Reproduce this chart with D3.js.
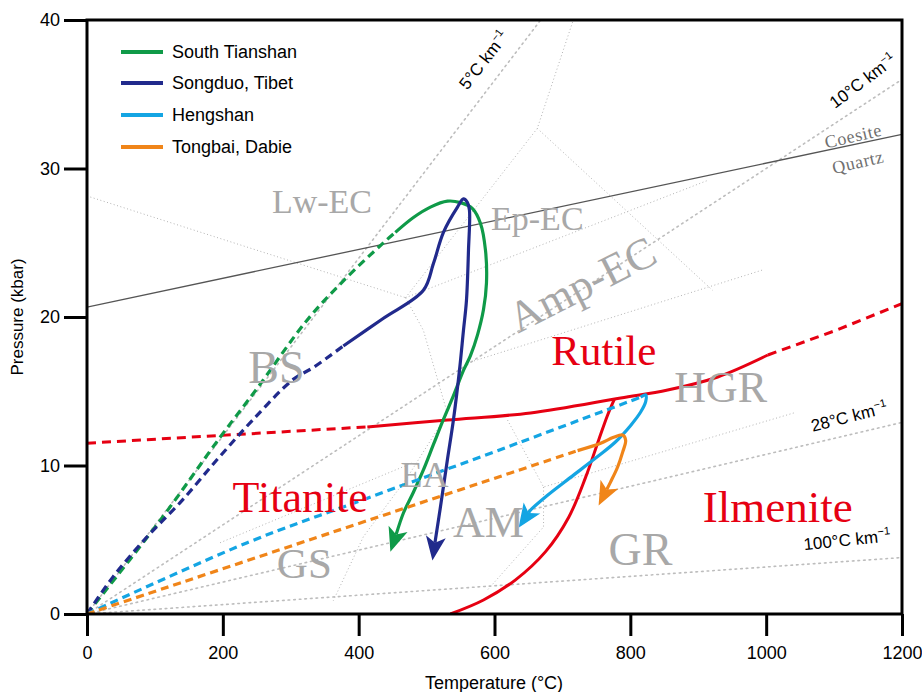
<!DOCTYPE html>
<html><head><meta charset="utf-8">
<script src="https://cdn.jsdelivr.net/npm/d3@7"></script>
<style>body{margin:0;background:#fff}svg{display:block}</style>
</head><body>
<svg id="chart" width="922" height="692"></svg>
<script>
// ---------- data (T in °C, P in kbar) ----------
const xTicks = [0, 200, 400, 600, 800, 1000, 1200];
const yTicks = [0, 10, 20, 30, 40];

const seriesNames = ["South Tianshan", "Songduo, Tibet", "Hengshan", "Tongbai, Dabie"];
const seriesColors = ["#0f9a48", "#212a8c", "#14a5e3", "#f08519"];

// prograde (dashed) and peak/retrograde (solid, arrow at end)
const tianshanPro = [[0,0],[107.6,6.3],[196,11.9],[250.6,15.2],[324.3,19.8],[378.9,22.5],[437.8,25.05],[454,25.7]];
const tianshanRet = [[454,25.7],[480.6,26.7],[505.6,27.4],[530.7,27.8],[549.9,27.7],[567.6,27.3],[579.4,26.3],[586.7,24.5],[588.2,22.3],[583.8,20.5],[575,18.8],[564.6,17.4],[554.3,16.4],[539.6,14.7],[524.8,13.1],[510,11.4],[495.3,9.7],[480.6,8.2],[465.9,6.8],[446.7,4.2]];
const songduoPro = [[0,0],[38.3,2.5],[88.5,5.2],[137.1,7.5],[191.6,10.4],[244.7,13.1],[303.7,15.8],[333.2,16.6],[377.4,18.05]];
const songduoRet = [[377.4,18.05],[436,19.9],[495.3,21.8],[510.1,23.6],[524.8,25.7],[545.5,27.4],[554.3,27.95],[560.2,27.7],[563.1,27.2],[561.7,24.5],[558.7,21.1],[554.3,19.1],[548.4,16.4],[539.6,13.1],[530.7,10.4],[520.4,7.2],[513,5.0],[508.6,3.6]];
const hengshanPro = [[0,0],[235.9,4.8],[412.8,7.8],[604.4,11.0],[815.2,14.6]];
const hengshanRet = [[815.2,14.6],[822.6,14.75],[822.6,14.3],[815.2,13.6],[800.5,12.7],[778.4,11.6],[751.8,10.6],[712,9.2],[678.1,8.0],[653.1,7.0],[635.4,5.8]];
const tongbaiPro = [[0,0],[361,5.5],[722.4,11.0]];
const tongbaiRet = [[722.4,11.0],[756.3,11.5],[775.4,11.9],[788.7,12.05],[793.1,11.7],[788.7,10.9],[781.3,9.9],[771,8.9],[753.3,7.3]];

// Ti-phase boundaries
const titRutDashLeft = [[0,11.5],[412.8,12.6]];
const titRutSolid = [[412.8,12.6],[530.7,13.06],[653.1,13.54],[785.8,14.55],[855,15.08],[928.7,15.96],[1002.5,17.44]];
const titRutDashRight = [[1002.5,17.44],[1102.7,19.1],[1200,20.9]];
const rutIlm = [[535.1,0],[583.8,0.94],[631,2.3],[675.2,4.2],[709.1,6.5],[734.1,9.2],[753.3,11.7],[766.6,13.4],[776.9,14.5]];

// coesite = quartz
const coesiteQuartz = [[0,20.67],[1200,32.3]];

// geotherms
const geotherms = [[[0,0],[668,40]], [[0,0],[1200,36]], [[0,0],[1200,12.9]], [[0,0],[1200,3.8]]];
const geothermLabels = [
  {t:"5°C km", T:584, P:37.3, rot:-52},
  {t:"10°C km", T:1142, P:35.9, rot:-37},
  {t:"28°C km", T:1122, P:13.3, rot:-14},
  {t:"100°C km", T:1119, P:5.0, rot:-6}
];

// metamorphic facies boundaries
const facies = [
  [[0,28.15],[469,21.3]],
  [[469,21.3],[663,32.7],[716,40]],
  [[663,32.7],[921,21.8]],
  [[469,21.3],[914,29.2]],
  [[469,21.3],[495.3,19.1],[530.7,13.5],[471.7,9.2],[406.9,5.2],[362.7,0.9]],
  [[560,16.9],[997,23.2]],
  [[619.2,13.06],[672.2,8.55],[1040.8,13.54]],
  [[672.2,8.55],[672.2,5.86],[589.7,1.62]],
  [[196,4.8],[480.6,10.2]]
];
const faciesLabels = [
  {t:"Lw-EC", T:346, P:27.0, size:34, rot:0},
  {t:"Ep-EC", T:663, P:25.86, size:34, rot:0},
  {t:"Amp-EC", T:739, P:21.3, size:44, rot:-27},
  {t:"BS", T:279, P:15.56, size:46, rot:0},
  {t:"HGR", T:933, P:14.28, size:44, rot:0},
  {t:"EA", T:497, P:8.55, size:36, rot:0},
  {t:"AM", T:591, P:5.19, size:44, rot:0},
  {t:"GS", T:320, P:2.42, size:43, rot:0},
  {t:"GR", T:815, P:3.3, size:46, rot:0}
];
const phaseLabels = [
  {t:"Rutile", T:761, P:16.77, size:43},
  {t:"Titanite", T:314, P:6.87, size:44},
  {t:"Ilmenite", T:1017, P:6.2, size:45}
];

// ---------- drawing ----------
const svg = d3.select("#chart");
const x = d3.scaleLinear().domain([0,1200]).range([87,902]);
const y = d3.scaleLinear().domain([0,40]).range([614,20]);

svg.append("defs").append("clipPath").attr("id","clip")
  .append("rect").attr("x",87).attr("y",20).attr("width",815).attr("height",594);

const plot = svg.append("g").attr("clip-path","url(#clip)");
const lin = d3.line().x(d=>x(d[0])).y(d=>y(d[1]));
const smooth = d3.line().x(d=>x(d[0])).y(d=>y(d[1])).curve(d3.curveCatmullRom.alpha(0.5));

// facies
facies.forEach(f=>{
  plot.append("path").attr("d",lin(f)).attr("fill","none")
    .attr("stroke","#b4b4b4").attr("stroke-width",1).attr("stroke-dasharray","1,2.5");
});
// geotherms
geotherms.forEach(g=>{
  plot.append("path").attr("d",lin(g)).attr("fill","none")
    .attr("stroke","#bdbdbd").attr("stroke-width",1.6).attr("stroke-dasharray","1.6,4").attr("stroke-linecap","round");
});
// coesite-quartz
plot.append("path").attr("d",lin(coesiteQuartz)).attr("fill","none").attr("stroke","#555").attr("stroke-width",1.3);

// facies labels
faciesLabels.forEach(l=>{
  svg.append("text").text(l.t)
    .attr("transform",`translate(${x(l.T)},${y(l.P)}) rotate(${l.rot})`)
    .attr("text-anchor","middle")
    .attr("font-family","'Liberation Serif','Times New Roman',serif")
    .attr("font-size",l.size).attr("fill","#a8a8a8");
});
// coesite / quartz labels
[["Coesite",1128,32.2],["Quartz",1135,30.45]].forEach(c=>{
  svg.append("text").text(c[0])
    .attr("transform",`translate(${x(c[1])},${y(c[2])}) rotate(-13)`)
    .attr("text-anchor","middle").attr("dy","0.35em")
    .attr("font-family","'Liberation Serif','Times New Roman',serif")
    .attr("font-size",18).attr("fill","#707070").attr("letter-spacing",0.6);
});

// red boundaries
const red = "#e60012";
plot.append("path").attr("d",lin(titRutDashLeft)).attr("fill","none").attr("stroke",red).attr("stroke-width",3).attr("stroke-dasharray","9,6");
plot.append("path").attr("d",smooth(titRutSolid)).attr("fill","none").attr("stroke",red).attr("stroke-width",3);
plot.append("path").attr("d",lin(titRutDashRight)).attr("fill","none").attr("stroke",red).attr("stroke-width",3).attr("stroke-dasharray","9,6");
plot.append("path").attr("d",smooth(rutIlm)).attr("fill","none").attr("stroke",red).attr("stroke-width",3);

// P-T paths
function drawPath(pro, ret, color){
  plot.append("path").attr("d",smooth(pro)).attr("fill","none").attr("stroke",color)
    .attr("stroke-width",3.2).attr("stroke-dasharray","8,5");
  const px = ret.map(d=>[x(d[0]),y(d[1])]);
  const tip = px[px.length-1];
  const prev = px[px.length-2];
  const dx = tip[0]-prev[0], dy = tip[1]-prev[1];
  const len = Math.hypot(dx,dy); const ux = dx/len, uy = dy/len;
  const L = 24, W = 10, notch = 6;
  const base = [tip[0]-ux*L, tip[1]-uy*L];
  const nPt = [tip[0]-ux*(L-notch), tip[1]-uy*(L-notch)];
  const body = px.slice(0,-1).concat([nPt]);
  plot.append("path").attr("d",d3.line().curve(d3.curveCatmullRom.alpha(0.5))(body))
    .attr("fill","none").attr("stroke",color).attr("stroke-width",3.2);
  const left = [base[0]-uy*W, base[1]+ux*W], right=[base[0]+uy*W, base[1]-ux*W];
  plot.append("path").attr("d",`M${tip}L${left}L${nPt}L${right}Z`).attr("fill",color);
}
drawPath(tianshanPro, tianshanRet, seriesColors[0]);
drawPath(songduoPro, songduoRet, seriesColors[1]);
drawPath(hengshanPro, hengshanRet, seriesColors[2]);
drawPath(tongbaiPro, tongbaiRet, seriesColors[3]);

// phase labels
phaseLabels.forEach(l=>{
  svg.append("text").text(l.t).attr("x",x(l.T)).attr("y",y(l.P))
    .attr("text-anchor","middle")
    .attr("font-family","'Liberation Serif','Times New Roman',serif")
    .attr("font-size",l.size).attr("fill",red);
});

// geotherm labels
geothermLabels.forEach(g=>{
  const t = svg.append("text")
    .attr("transform",`translate(${x(g.T)},${y(g.P)}) rotate(${g.rot})`)
    .attr("text-anchor","middle").attr("dy","0.35em")
    .attr("font-family","'Liberation Sans',Arial,sans-serif").attr("font-size",17).attr("fill","#000");
  t.append("tspan").text(g.t);
  t.append("tspan").text("−1").attr("font-size",11).attr("dy",-7);
});

// axes
const fontSans = "'Liberation Sans',Arial,sans-serif";
const xAxis = svg.append("g").attr("transform","translate(0,614)")
  .call(d3.axisBottom(x).tickValues(xTicks).tickSize(22).tickPadding(10).tickFormat(d3.format("d")));
const yAxis = svg.append("g").attr("transform","translate(87,0)")
  .call(d3.axisLeft(y).tickValues(yTicks).tickSize(23).tickPadding(4).tickFormat(d3.format("d")));
[xAxis,yAxis].forEach(a=>{
  a.select(".domain").remove();
  a.selectAll(".tick line").attr("stroke","#000").attr("stroke-width",3);
  a.selectAll(".tick text").attr("font-family",fontSans).attr("font-size",18).attr("fill","#000");
});

// frame
svg.append("rect").attr("x",87).attr("y",20).attr("width",815).attr("height",594)
  .attr("fill","none").attr("stroke","#000").attr("stroke-width",3);

// axis titles
svg.append("text").text("Temperature (°C)").attr("x",494).attr("y",689)
  .attr("text-anchor","middle").attr("font-family",fontSans).attr("font-size",18);
svg.append("text").text("Pressure (kbar)")
  .attr("transform","translate(23,317) rotate(-90)")
  .attr("text-anchor","middle").attr("font-family",fontSans).attr("font-size",17);

// legend
const legend = svg.append("g");
seriesNames.forEach((n,i)=>{
  const ly = [52,83,115,147][i];
  legend.append("line").attr("x1",121).attr("x2",163).attr("y1",ly).attr("y2",ly)
    .attr("stroke",seriesColors[i]).attr("stroke-width",4);
  legend.append("text").text(n).attr("x",172).attr("y",ly).attr("dy","0.35em")
    .attr("font-family",fontSans).attr("font-size",18).attr("fill","#000");
});
</script>
</body></html>
